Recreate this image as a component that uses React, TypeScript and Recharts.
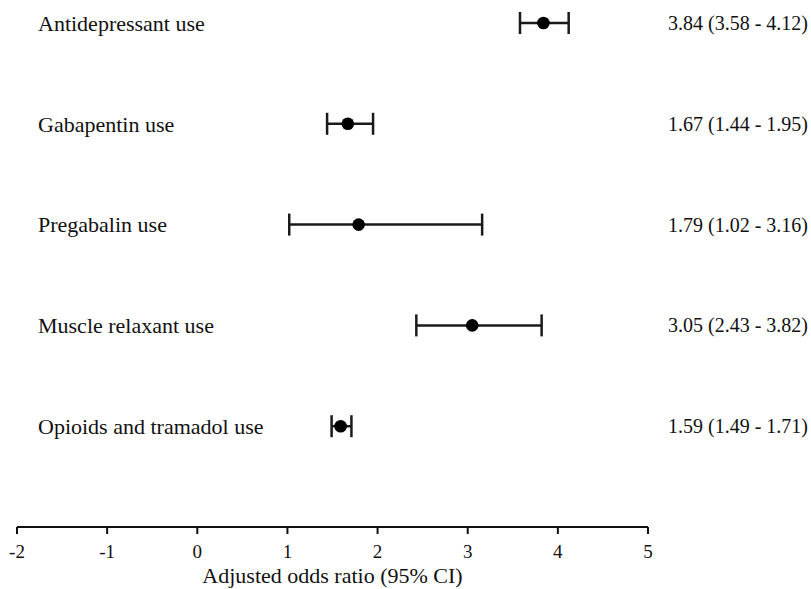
import React from "react";
import { ScatterChart, Scatter, XAxis, YAxis, ErrorBar } from "recharts";

// Data
const labels = [
	"Antidepressant use",
	"Gabapentin use",
	"Pregabalin use",
	"Muscle relaxant use",
	"Opioids and tramadol use",
];
const estimates = [3.84, 1.67, 1.79, 3.05, 1.59];
const lower = [3.58, 1.44, 1.02, 2.43, 1.49];
const upper = [4.12, 1.95, 3.16, 3.82, 1.71];
const rows = [5, 4, 3, 2, 1];
const xTicks = [-2, -1, 0, 1, 2, 3, 4, 5];

const FONT = "Liberation Serif, serif";

const data = labels.map((label, i) => ({
	label,
	x: estimates[i],
	y: rows[i],
	err: [estimates[i] - lower[i], upper[i] - estimates[i]],
}));

// row label on the left, estimate (CI) text on the right
const RowTick = (props: any) => {
	const { x, y, payload } = props;
	const i = rows.indexOf(payload.value);
	if (i < 0) return null;
	const ci = `${estimates[i].toFixed(2)} (${lower[i].toFixed(2)} - ${upper[i].toFixed(2)})`;
	return (
		<g>
			<text x={x + 21} y={y} dy="0.35em" textAnchor="start" style={{ fontFamily: FONT, fontSize: 22 }} fill="#111">
				{labels[i]}
			</text>
			<text x={x + 651} y={y} dy="0.35em" textAnchor="start" style={{ fontFamily: FONT, fontSize: 20 }} fill="#111">
				{ci}
			</text>
		</g>
	);
};

const App = () => {
	return (
		<div style={{ position: "absolute", left: 0, top: 0, background: "#fff", fontFamily: FONT }}>
			<ScatterChart width={811} height={589} margin={{ top: 23, right: 163, bottom: 0, left: 16 }} style={{ fontFamily: FONT }}>
				<XAxis
					type="number"
					dataKey="x"
					domain={[-2, 5]}
					ticks={xTicks}
					interval={0}
					height={62}
					axisLine={{ stroke: "#111", strokeWidth: 2 }}
					tickLine={{ stroke: "#111", strokeWidth: 2 }}
					tickSize={7}
					tickMargin={11}
					tick={{ fontFamily: FONT, fontSize: 19, fill: "#111" }}
					label={{
						value: "Adjusted odds ratio (95% CI)",
						position: "insideBottom",
						offset: 6,
						style: { fontFamily: FONT, fontSize: 22, fill: "#111" },
					}}
				/>
				<YAxis
					type="number"
					dataKey="y"
					domain={[0, 5]}
					ticks={rows}
					width={1}
					axisLine={false}
					tickLine={false}
					tickSize={0}
					tickMargin={0}
					tick={<RowTick />}
				/>
				<Scatter data={data} fill="#000" isAnimationActive={false} shape={(p: any) => <circle cx={p.cx} cy={p.cy} r={6.3} fill="#000" />}>
					<ErrorBar dataKey="err" direction="x" width={11} stroke="#1a1a1a" strokeWidth={2.5} />
				</Scatter>
			</ScatterChart>
		</div>
	);
};

export default App;
